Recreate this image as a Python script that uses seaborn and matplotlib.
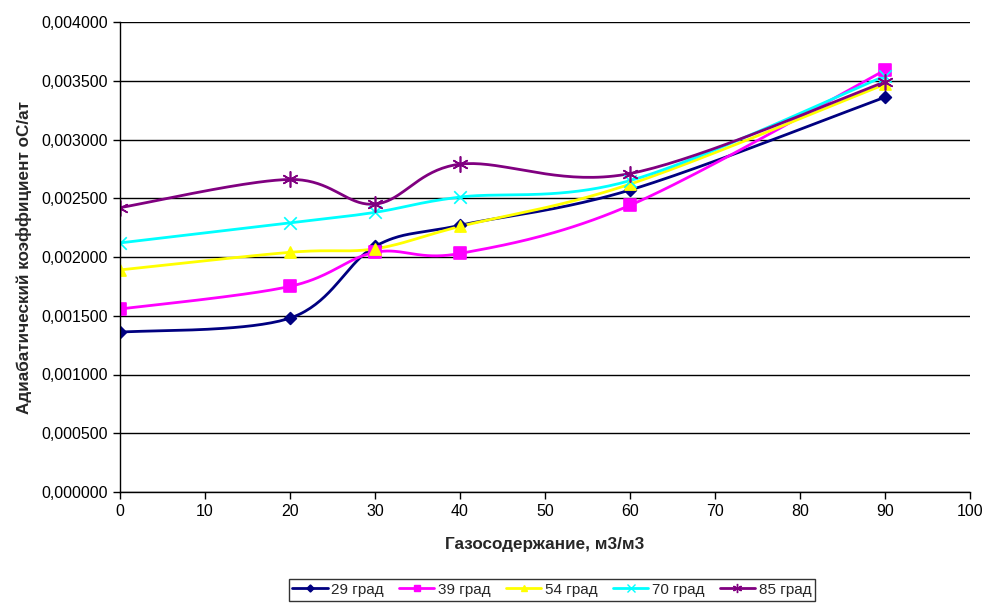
import numpy as np
import pandas as pd
import matplotlib
matplotlib.use("Agg")
import matplotlib.pyplot as plt
import seaborn as sns
from matplotlib.lines import Line2D

# ---- data ----
gas = [0, 20, 30, 40, 60, 90]
s29 = [0.001360, 0.001480, 0.002090, 0.002270, 0.002570, 0.003360]
s39 = [0.001557, 0.001750, 0.002040, 0.002030, 0.002440, 0.003590]
s54 = [0.001890, 0.002040, 0.002070, 0.002260, 0.002620, 0.003470]
s70 = [0.002120, 0.002290, 0.002380, 0.002510, 0.002650, 0.003540]
s85 = [0.002420, 0.002660, 0.002450, 0.002790, 0.002710, 0.003490]
series_names = ["29 град", "39 град", "54 град", "70 град", "85 град"]
series_vals = [s29, s39, s54, s70, s85]
colors = ["#000080", "#FF00FF", "#FFFF00", "#00FFFF", "#800080"]
markers = ["D", "s", "^", "x", (6, 2, 0)]
msizes = [6, 8, 8, 9, 11]
yticks = [0.0, 0.0005, 0.001, 0.0015, 0.002, 0.0025, 0.003, 0.0035, 0.004]
xticks = [0, 10, 20, 30, 40, 50, 60, 70, 80, 90, 100]

sns.set_style("white")
plt.rcParams["font.family"] = ["Liberation Sans", "DejaVu Sans"]

fig = plt.figure(figsize=(9.89, 6.03), dpi=100)
ax = fig.add_axes([120 / 989, 1 - 492 / 603, 850 / 989, 470 / 603])
ax.set_xlim(0, 100)
ax.set_ylim(0, 0.004)

# scale factors to smooth in screen-like space
sx = 850 / 100.0
sy = 470 / 0.004


def smooth(xs, ys, n=40):
    P = np.column_stack([np.array(xs) * sx, np.array(ys) * sy])
    out = []
    m = len(P)
    for i in range(m - 1):
        p0 = P[i - 1] if i > 0 else P[i]
        p1 = P[i]
        p2 = P[i + 1]
        p3 = P[i + 2] if i + 2 < m else P[i + 1]
        c1 = p1 + (p2 - p0) / 6.0
        c2 = p2 - (p3 - p1) / 6.0
        t = np.linspace(0, 1, n)[:, None]
        b = ((1 - t) ** 3) * p1 + 3 * ((1 - t) ** 2) * t * c1 + 3 * (1 - t) * t ** 2 * c2 + t ** 3 * p2
        out.append(b if i == 0 else b[1:])
    B = np.vstack(out)
    return B[:, 0] / sx, B[:, 1] / sy


for yv in yticks:
    ax.axhline(yv, color="black", lw=1.0, zorder=1)

handles = []
for name, vals, c, mk, ms in zip(series_names, series_vals, colors, markers, msizes):
    cx, cy = smooth(gas, vals)
    ax.plot(cx, cy, color=c, lw=2.0, zorder=3)
    df = pd.DataFrame({"x": gas, "y": vals})
    sns.scatterplot(data=df, x="x", y="y", ax=ax, marker=mk, s=ms ** 2,
                    color=c, edgecolor=c if mk not in ("x", (6, 2, 0)) else None,
                    linewidth=1.2, zorder=4, legend=False)
    handles.append(Line2D([0], [0], color=c, lw=2.0, marker=mk,
                          markersize=ms * 0.6, markeredgecolor=c, markerfacecolor=c))

ax.set_xticks(xticks)
ax.set_yticks(yticks)
ax.set_yticklabels([f"{v:.6f}".replace(".", ",") for v in yticks])
ax.tick_params(axis="both", direction="out", length=5, width=1, colors="black",
               labelsize=11.5, bottom=True, left=True)
for sp in ["top", "right"]:
    ax.spines[sp].set_visible(False)
for sp in ["left", "bottom"]:
    ax.spines[sp].set_color("black")
    ax.spines[sp].set_linewidth(1.0)
ax.spines["left"].set_zorder(5)

ax.set_xlabel("Газосодержание, м3/м3", fontsize=12.3, fontweight="bold", labelpad=13)
ax.set_ylabel("Адиабатический коэффициент оС/ат", fontsize=12.3, fontweight="bold", labelpad=7)

leg = fig.legend(handles, series_names, loc="center", bbox_to_anchor=(0.558, 0.022),
                 ncol=5, frameon=True, fancybox=False, edgecolor="black",
                 fontsize=11, handlelength=2.3, columnspacing=1.0, handletextpad=0.25,
                 borderpad=0.25)
leg.get_frame().set_linewidth(1.0)

fig.savefig("out.png", dpi=100)
